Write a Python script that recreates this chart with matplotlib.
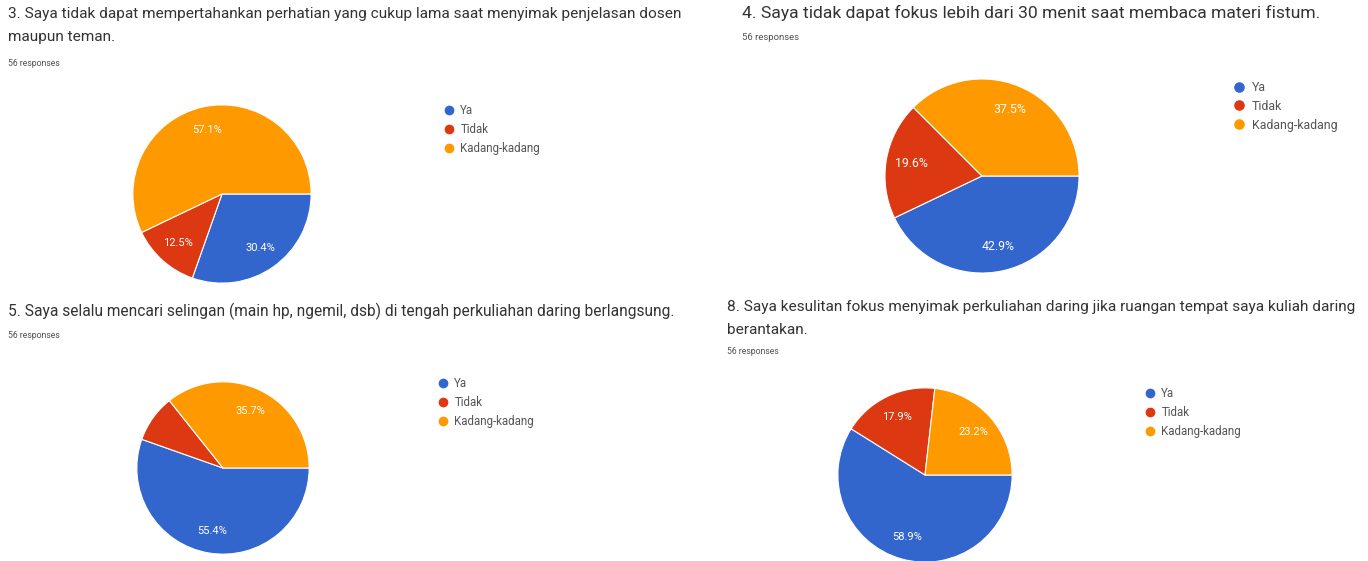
import matplotlib.pyplot as plt
from matplotlib.lines import Line2D

plt.rcParams['font.family'] = ['Roboto', 'DejaVu Sans']

W, H = 1368, 561

options = ['Ya', 'Tidak', 'Kadang-kadang']
colors = ['#3366cc', '#dc3912', '#ff9900']

titles = [
    '3. Saya tidak dapat mempertahankan perhatian yang cukup lama saat menyimak penjelasan dosen\nmaupun teman.',
    '4. Saya tidak dapat fokus lebih dari 30 menit saat membaca materi fistum.',
    '5. Saya selalu mencari selingan (main hp, ngemil, dsb) di tengah perkuliahan daring berlangsung.',
    '8. Saya kesulitan fokus menyimak perkuliahan daring jika ruangan tempat saya kuliah daring\nberantakan.',
]
responses = [56, 56, 56, 56]

# percentages per question: Ya, Tidak, Kadang-kadang
q3 = [30.4, 12.5, 57.1]
q4 = [42.9, 19.6, 37.5]
q5 = [55.4, 8.9, 35.7]
q8 = [58.9, 17.9, 23.2]
values = [q3, q4, q5, q8]

# layout in pixels; s scales the small text of each panel
panels = [
    dict(tx=8, ty=7, tsize=11.1, ry=64, cx=222, cy=194, r=90,
         lx=443, ly=104, s=1.0, lsize=8.3, lspace=0.53),
    dict(tx=742, ty=5, tsize=12.6, ry=38, cx=982, cy=176, r=98,
         lx=1233, ly=81, s=1.1, lsize=8.9, lspace=0.47),
    dict(tx=8, ty=303, tsize=11.2, ry=335, cx=223, cy=468, r=87,
         lx=437, ly=377, s=1.0, lsize=8.3, lspace=0.53),
    dict(tx=727, ty=300, tsize=11.1, ry=352, cx=925, cy=475, r=88,
         lx=1144, ly=387, s=1.0, lsize=8.3, lspace=0.53),
]


def pct_label(p):
    return f'{p:.1f}%' if p >= 10 else ''


fig = plt.figure(figsize=(W / 100, H / 100), dpi=100)

for title, n, vals, p in zip(titles, responses, values, panels):
    s = p['s']
    fig.text(p['tx'] / W, 1 - p['ty'] / H, title, ha='left', va='top',
             fontsize=p['tsize'], color='#333333', linespacing=1.85)
    fig.text(p['tx'] / W, 1 - p['ry'] / H, f'{n} responses', ha='left',
             va='center', fontsize=6.2 * s, color='#505050')

    r = p['r']
    ax = fig.add_axes([(p['cx'] - r) / W, 1 - (p['cy'] + r) / H,
                       2 * r / W, 2 * r / H])
    wedges, _, autotexts = ax.pie(
        vals, colors=colors, startangle=0, counterclock=False, radius=1,
        autopct=pct_label, pctdistance=0.74,
        wedgeprops=dict(edgecolor='white', linewidth=0.8),
        textprops=dict(color='white', fontsize=8.0 * s))
    ax.set_xlim(-1.01, 1.01)
    ax.set_ylim(-1.01, 1.01)
    ax.axis('off')

    handles = [Line2D([], [], marker='o', linestyle='none', markersize=6 * s,
                      markerfacecolor=c, markeredgecolor=c) for c in colors]
    fig.legend(handles, options, loc='upper left',
               bbox_to_anchor=(p['lx'] / W, 1 - p['ly'] / H),
               frameon=False, fontsize=p['lsize'], labelcolor='#555555',
               handletextpad=0.5, labelspacing=p['lspace'], borderpad=0,
               borderaxespad=0, handlelength=1.0)

fig.savefig('out.png', dpi=100)
